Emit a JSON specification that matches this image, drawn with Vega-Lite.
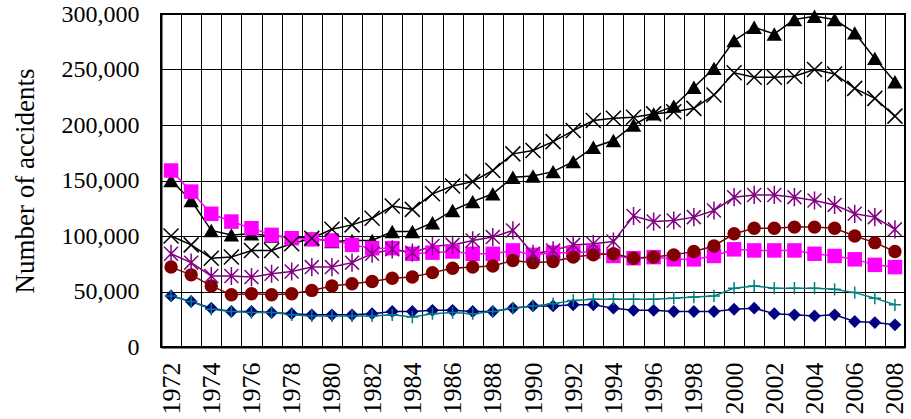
{
  "$schema": "https://vega.github.io/schema/vega-lite/v6.json",
  "width": 744,
  "height": 333,
  "autosize": {"type": "none"},
  "padding": {"left": 161, "top": 14, "right": 6, "bottom": 72},
  "background": "white",
  "config": {
    "font": "Liberation Serif",
    "view": {"stroke": "black", "strokeWidth": 2},
    "axis": {"labelColor": "black", "titleColor": "black", "labelFont": "Liberation Serif", "titleFont": "Liberation Serif"}
  },
  "data": {"values": [
    {"year":1972,"series":"Series 1","accidents":150000},{"year":1973,"series":"Series 1","accidents":132000},{"year":1974,"series":"Series 1","accidents":105000},{"year":1975,"series":"Series 1","accidents":101000},{"year":1976,"series":"Series 1","accidents":102000},{"year":1977,"series":"Series 1","accidents":100000},{"year":1978,"series":"Series 1","accidents":99000},{"year":1979,"series":"Series 1","accidents":98000},{"year":1980,"series":"Series 1","accidents":95000},{"year":1981,"series":"Series 1","accidents":96000},{"year":1982,"series":"Series 1","accidents":96000},{"year":1983,"series":"Series 1","accidents":104000},{"year":1984,"series":"Series 1","accidents":104000},{"year":1985,"series":"Series 1","accidents":112000},{"year":1986,"series":"Series 1","accidents":123000},{"year":1987,"series":"Series 1","accidents":131000},{"year":1988,"series":"Series 1","accidents":138000},{"year":1989,"series":"Series 1","accidents":153000},{"year":1990,"series":"Series 1","accidents":154000},{"year":1991,"series":"Series 1","accidents":158000},{"year":1992,"series":"Series 1","accidents":167000},{"year":1993,"series":"Series 1","accidents":180000},{"year":1994,"series":"Series 1","accidents":186000},{"year":1995,"series":"Series 1","accidents":200000},{"year":1996,"series":"Series 1","accidents":210000},{"year":1997,"series":"Series 1","accidents":217000},{"year":1998,"series":"Series 1","accidents":234000},{"year":1999,"series":"Series 1","accidents":251000},{"year":2000,"series":"Series 1","accidents":276000},{"year":2001,"series":"Series 1","accidents":288000},{"year":2002,"series":"Series 1","accidents":282000},{"year":2003,"series":"Series 1","accidents":295000},{"year":2004,"series":"Series 1","accidents":298000},{"year":2005,"series":"Series 1","accidents":295000},{"year":2006,"series":"Series 1","accidents":283000},{"year":2007,"series":"Series 1","accidents":260000},{"year":2008,"series":"Series 1","accidents":239000},
    {"year":1972,"series":"Series 2","accidents":100000},{"year":1973,"series":"Series 2","accidents":92000},{"year":1974,"series":"Series 2","accidents":80000},{"year":1975,"series":"Series 2","accidents":81000},{"year":1976,"series":"Series 2","accidents":87000},{"year":1977,"series":"Series 2","accidents":87000},{"year":1978,"series":"Series 2","accidents":93000},{"year":1979,"series":"Series 2","accidents":98000},{"year":1980,"series":"Series 2","accidents":106000},{"year":1981,"series":"Series 2","accidents":110000},{"year":1982,"series":"Series 2","accidents":116000},{"year":1983,"series":"Series 2","accidents":127000},{"year":1984,"series":"Series 2","accidents":124000},{"year":1985,"series":"Series 2","accidents":138000},{"year":1986,"series":"Series 2","accidents":145000},{"year":1987,"series":"Series 2","accidents":149000},{"year":1988,"series":"Series 2","accidents":159000},{"year":1989,"series":"Series 2","accidents":174000},{"year":1990,"series":"Series 2","accidents":177000},{"year":1991,"series":"Series 2","accidents":185000},{"year":1992,"series":"Series 2","accidents":195000},{"year":1993,"series":"Series 2","accidents":204000},{"year":1994,"series":"Series 2","accidents":206000},{"year":1995,"series":"Series 2","accidents":207000},{"year":1996,"series":"Series 2","accidents":210000},{"year":1997,"series":"Series 2","accidents":212000},{"year":1998,"series":"Series 2","accidents":215000},{"year":1999,"series":"Series 2","accidents":227000},{"year":2000,"series":"Series 2","accidents":247000},{"year":2001,"series":"Series 2","accidents":243000},{"year":2002,"series":"Series 2","accidents":243000},{"year":2003,"series":"Series 2","accidents":244000},{"year":2004,"series":"Series 2","accidents":250000},{"year":2005,"series":"Series 2","accidents":246000},{"year":2006,"series":"Series 2","accidents":233000},{"year":2007,"series":"Series 2","accidents":224000},{"year":2008,"series":"Series 2","accidents":208000},
    {"year":1972,"series":"Series 3","accidents":159000},{"year":1973,"series":"Series 3","accidents":140000},{"year":1974,"series":"Series 3","accidents":120000},{"year":1975,"series":"Series 3","accidents":113000},{"year":1976,"series":"Series 3","accidents":107000},{"year":1977,"series":"Series 3","accidents":101000},{"year":1978,"series":"Series 3","accidents":98000},{"year":1979,"series":"Series 3","accidents":97000},{"year":1980,"series":"Series 3","accidents":96000},{"year":1981,"series":"Series 3","accidents":92000},{"year":1982,"series":"Series 3","accidents":89000},{"year":1983,"series":"Series 3","accidents":89000},{"year":1984,"series":"Series 3","accidents":84000},{"year":1985,"series":"Series 3","accidents":85000},{"year":1986,"series":"Series 3","accidents":86000},{"year":1987,"series":"Series 3","accidents":84000},{"year":1988,"series":"Series 3","accidents":84000},{"year":1989,"series":"Series 3","accidents":87000},{"year":1990,"series":"Series 3","accidents":83000},{"year":1991,"series":"Series 3","accidents":85000},{"year":1992,"series":"Series 3","accidents":85000},{"year":1993,"series":"Series 3","accidents":86000},{"year":1994,"series":"Series 3","accidents":82000},{"year":1995,"series":"Series 3","accidents":80000},{"year":1996,"series":"Series 3","accidents":81000},{"year":1997,"series":"Series 3","accidents":79000},{"year":1998,"series":"Series 3","accidents":79000},{"year":1999,"series":"Series 3","accidents":82000},{"year":2000,"series":"Series 3","accidents":88000},{"year":2001,"series":"Series 3","accidents":87000},{"year":2002,"series":"Series 3","accidents":87000},{"year":2003,"series":"Series 3","accidents":87000},{"year":2004,"series":"Series 3","accidents":84000},{"year":2005,"series":"Series 3","accidents":82000},{"year":2006,"series":"Series 3","accidents":79000},{"year":2007,"series":"Series 3","accidents":74000},{"year":2008,"series":"Series 3","accidents":72000},
    {"year":1972,"series":"Series 4","accidents":84000},{"year":1973,"series":"Series 4","accidents":76000},{"year":1974,"series":"Series 4","accidents":64000},{"year":1975,"series":"Series 4","accidents":64000},{"year":1976,"series":"Series 4","accidents":63000},{"year":1977,"series":"Series 4","accidents":66000},{"year":1978,"series":"Series 4","accidents":68000},{"year":1979,"series":"Series 4","accidents":72000},{"year":1980,"series":"Series 4","accidents":72000},{"year":1981,"series":"Series 4","accidents":76000},{"year":1982,"series":"Series 4","accidents":84000},{"year":1983,"series":"Series 4","accidents":88000},{"year":1984,"series":"Series 4","accidents":85000},{"year":1985,"series":"Series 4","accidents":91000},{"year":1986,"series":"Series 4","accidents":92000},{"year":1987,"series":"Series 4","accidents":96000},{"year":1988,"series":"Series 4","accidents":99000},{"year":1989,"series":"Series 4","accidents":105000},{"year":1990,"series":"Series 4","accidents":84000},{"year":1991,"series":"Series 4","accidents":87000},{"year":1992,"series":"Series 4","accidents":92000},{"year":1993,"series":"Series 4","accidents":93000},{"year":1994,"series":"Series 4","accidents":95000},{"year":1995,"series":"Series 4","accidents":118000},{"year":1996,"series":"Series 4","accidents":113000},{"year":1997,"series":"Series 4","accidents":114000},{"year":1998,"series":"Series 4","accidents":117000},{"year":1999,"series":"Series 4","accidents":123000},{"year":2000,"series":"Series 4","accidents":135000},{"year":2001,"series":"Series 4","accidents":137000},{"year":2002,"series":"Series 4","accidents":137000},{"year":2003,"series":"Series 4","accidents":135000},{"year":2004,"series":"Series 4","accidents":132000},{"year":2005,"series":"Series 4","accidents":128000},{"year":2006,"series":"Series 4","accidents":120000},{"year":2007,"series":"Series 4","accidents":117000},{"year":2008,"series":"Series 4","accidents":106000},
    {"year":1972,"series":"Series 5","accidents":72000},{"year":1973,"series":"Series 5","accidents":65000},{"year":1974,"series":"Series 5","accidents":55000},{"year":1975,"series":"Series 5","accidents":47000},{"year":1976,"series":"Series 5","accidents":48000},{"year":1977,"series":"Series 5","accidents":47000},{"year":1978,"series":"Series 5","accidents":48000},{"year":1979,"series":"Series 5","accidents":51000},{"year":1980,"series":"Series 5","accidents":55000},{"year":1981,"series":"Series 5","accidents":57000},{"year":1982,"series":"Series 5","accidents":59000},{"year":1983,"series":"Series 5","accidents":62000},{"year":1984,"series":"Series 5","accidents":63000},{"year":1985,"series":"Series 5","accidents":67000},{"year":1986,"series":"Series 5","accidents":71000},{"year":1987,"series":"Series 5","accidents":72000},{"year":1988,"series":"Series 5","accidents":73000},{"year":1989,"series":"Series 5","accidents":78000},{"year":1990,"series":"Series 5","accidents":76000},{"year":1991,"series":"Series 5","accidents":77000},{"year":1992,"series":"Series 5","accidents":81000},{"year":1993,"series":"Series 5","accidents":83000},{"year":1994,"series":"Series 5","accidents":84000},{"year":1995,"series":"Series 5","accidents":80000},{"year":1996,"series":"Series 5","accidents":81000},{"year":1997,"series":"Series 5","accidents":83000},{"year":1998,"series":"Series 5","accidents":86000},{"year":1999,"series":"Series 5","accidents":91000},{"year":2000,"series":"Series 5","accidents":102000},{"year":2001,"series":"Series 5","accidents":107000},{"year":2002,"series":"Series 5","accidents":107000},{"year":2003,"series":"Series 5","accidents":108000},{"year":2004,"series":"Series 5","accidents":108000},{"year":2005,"series":"Series 5","accidents":107000},{"year":2006,"series":"Series 5","accidents":100000},{"year":2007,"series":"Series 5","accidents":94000},{"year":2008,"series":"Series 5","accidents":86000},
    {"year":1972,"series":"Series 6","accidents":46000},{"year":1973,"series":"Series 6","accidents":41000},{"year":1974,"series":"Series 6","accidents":35000},{"year":1975,"series":"Series 6","accidents":32000},{"year":1976,"series":"Series 6","accidents":32000},{"year":1977,"series":"Series 6","accidents":31000},{"year":1978,"series":"Series 6","accidents":30000},{"year":1979,"series":"Series 6","accidents":29000},{"year":1980,"series":"Series 6","accidents":29000},{"year":1981,"series":"Series 6","accidents":29000},{"year":1982,"series":"Series 6","accidents":30000},{"year":1983,"series":"Series 6","accidents":32000},{"year":1984,"series":"Series 6","accidents":32000},{"year":1985,"series":"Series 6","accidents":33000},{"year":1986,"series":"Series 6","accidents":33000},{"year":1987,"series":"Series 6","accidents":32000},{"year":1988,"series":"Series 6","accidents":32000},{"year":1989,"series":"Series 6","accidents":35000},{"year":1990,"series":"Series 6","accidents":37000},{"year":1991,"series":"Series 6","accidents":37000},{"year":1992,"series":"Series 6","accidents":38000},{"year":1993,"series":"Series 6","accidents":38000},{"year":1994,"series":"Series 6","accidents":35000},{"year":1995,"series":"Series 6","accidents":33000},{"year":1996,"series":"Series 6","accidents":33000},{"year":1997,"series":"Series 6","accidents":32000},{"year":1998,"series":"Series 6","accidents":32000},{"year":1999,"series":"Series 6","accidents":32000},{"year":2000,"series":"Series 6","accidents":34000},{"year":2001,"series":"Series 6","accidents":35000},{"year":2002,"series":"Series 6","accidents":30000},{"year":2003,"series":"Series 6","accidents":29000},{"year":2004,"series":"Series 6","accidents":28000},{"year":2005,"series":"Series 6","accidents":29000},{"year":2006,"series":"Series 6","accidents":23000},{"year":2007,"series":"Series 6","accidents":22000},{"year":2008,"series":"Series 6","accidents":20000},
    {"year":1972,"series":"Series 7","accidents":46000},{"year":1973,"series":"Series 7","accidents":41000},{"year":1974,"series":"Series 7","accidents":34000},{"year":1975,"series":"Series 7","accidents":32000},{"year":1976,"series":"Series 7","accidents":31000},{"year":1977,"series":"Series 7","accidents":31000},{"year":1978,"series":"Series 7","accidents":29000},{"year":1979,"series":"Series 7","accidents":28000},{"year":1980,"series":"Series 7","accidents":28000},{"year":1981,"series":"Series 7","accidents":28000},{"year":1982,"series":"Series 7","accidents":28000},{"year":1983,"series":"Series 7","accidents":29000},{"year":1984,"series":"Series 7","accidents":27000},{"year":1985,"series":"Series 7","accidents":30000},{"year":1986,"series":"Series 7","accidents":31000},{"year":1987,"series":"Series 7","accidents":30000},{"year":1988,"series":"Series 7","accidents":32000},{"year":1989,"series":"Series 7","accidents":35000},{"year":1990,"series":"Series 7","accidents":37000},{"year":1991,"series":"Series 7","accidents":39000},{"year":1992,"series":"Series 7","accidents":42000},{"year":1993,"series":"Series 7","accidents":43000},{"year":1994,"series":"Series 7","accidents":43000},{"year":1995,"series":"Series 7","accidents":43000},{"year":1996,"series":"Series 7","accidents":43000},{"year":1997,"series":"Series 7","accidents":44000},{"year":1998,"series":"Series 7","accidents":45000},{"year":1999,"series":"Series 7","accidents":46000},{"year":2000,"series":"Series 7","accidents":53000},{"year":2001,"series":"Series 7","accidents":55000},{"year":2002,"series":"Series 7","accidents":53000},{"year":2003,"series":"Series 7","accidents":53000},{"year":2004,"series":"Series 7","accidents":53000},{"year":2005,"series":"Series 7","accidents":52000},{"year":2006,"series":"Series 7","accidents":49000},{"year":2007,"series":"Series 7","accidents":44000},{"year":2008,"series":"Series 7","accidents":38000}
  ]},
  "encoding": {
    "x": {
      "field": "year", "type": "ordinal",
      "scale": {"type": "band", "paddingInner": 0, "paddingOuter": 0},
      "axis": {
        "title": null, "tickBand": "extent", "grid": true, "gridColor": "black", "gridWidth": 1, "gridOpacity": 1,
        "ticks": false, "domainColor": "black", "domainWidth": 2,
        "labelAngle": -90, "labelFontSize": 26, "labelPadding": 15, "labelOverlap": false,
        "labelExpr": "datum.value % 2 == 0 ? datum.label : ''"
      }
    },
    "y": {
      "field": "accidents", "type": "quantitative",
      "scale": {"domain": [0, 300000], "nice": false},
      "axis": {
        "title": "Number of accidents", "titleFontSize": 27, "titleFontWeight": "normal", "titlePadding": 22,
        "values": [0, 50000, 100000, 150000, 200000, 250000, 300000], "format": ",d",
        "grid": true, "gridColor": "black", "gridWidth": 1, "gridOpacity": 1,
        "ticks": false, "domainColor": "black", "domainWidth": 2,
        "labelFontSize": 24, "labelPadding": 22
      }
    },
    "color": {
      "field": "series", "type": "nominal", "legend": null,
      "scale": {
        "domain": ["Series 1", "Series 2", "Series 3", "Series 4", "Series 5", "Series 6", "Series 7"],
        "range": ["#000000", "#000000", "#FF00FF", "#800080", "#800000", "#000080", "#008080"]
      }
    }
  },
  "layer": [
    {"mark": {"type": "line", "strokeWidth": 1.5}, "encoding": {"detail": {"field": "series"}}},
    {
      "transform": [{"filter": {"field": "series", "oneOf": ["Series 1", "Series 3", "Series 5", "Series 6"]}}],
      "mark": {"type": "point", "filled": true, "opacity": 1},
      "encoding": {
        "shape": {"field": "series", "type": "nominal", "legend": null,
          "scale": {"domain": ["Series 1", "Series 2", "Series 3", "Series 4", "Series 5", "Series 6", "Series 7"],
            "range": ["triangle-up", "M-1,-1L1,1M-1,1L1,-1", "square", "M-1,-1L1,1M-1,1L1,-1M0,-1.3L0,1.3", "circle", "diamond", "M-1,0L1,0M0,-1L0,1"]}},
        "size": {"field": "series", "type": "nominal", "legend": null,
          "scale": {"domain": ["Series 1", "Series 2", "Series 3", "Series 4", "Series 5", "Series 6", "Series 7"],
            "range": [240, 150, 190, 190, 190, 220, 150]}}
      }
    },
    {
      "transform": [{"filter": {"field": "series", "oneOf": ["Series 2", "Series 4", "Series 7"]}}],
      "mark": {"type": "point", "filled": false, "opacity": 1, "strokeWidth": 1.5},
      "encoding": {
        "shape": {"field": "series", "type": "nominal", "legend": null},
        "size": {"field": "series", "type": "nominal", "legend": null}
      }
    }
  ]
}
